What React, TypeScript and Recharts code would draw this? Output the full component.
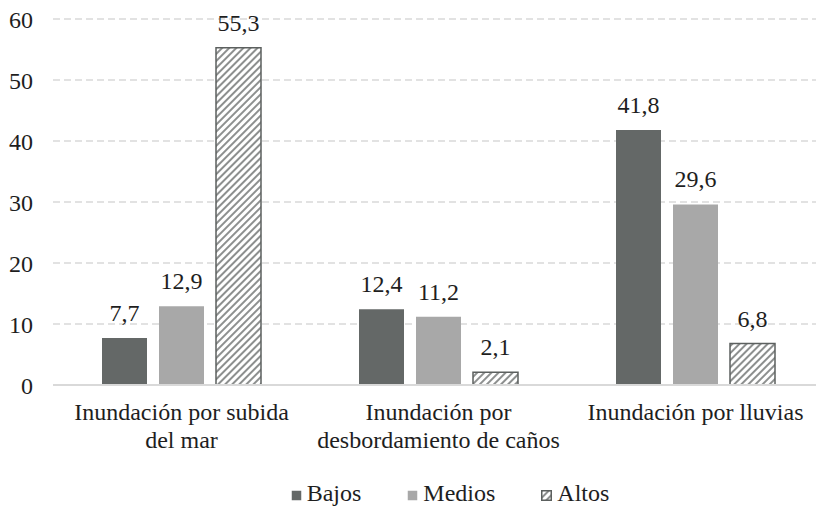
import React from 'react';
import { BarChart, Bar, XAxis, YAxis, CartesianGrid, Legend, LabelList } from 'recharts';

// categories use \n where the original label wraps
const categories = [
  'Inundación por subida\ndel mar',
  'Inundación por\ndesbordamiento de caños',
  'Inundación por lluvias',
];
const bajos = [7.7, 12.4, 41.8];
const medios = [12.9, 11.2, 29.6];
const altos = [55.3, 2.1, 6.8];
const yTicks = [0, 10, 20, 30, 40, 50, 60];

const data = categories.map((name, i) => ({
  name,
  bajos: bajos[i],
  medios: medios[i],
  altos: altos[i],
}));

const FONT = "'Liberation Serif', 'DejaVu Serif', serif";
const TEXT = '#1e1e1e';
const DARK = '#646867';
const LIGHT = '#a8a8a8';
const HATCH = '#5c605f';
const GRID = '#d9d9d9';

const fmt = (v: any) => Number(v).toFixed(1).replace('.', ',');

const CategoryTick = (props: any) => {
  const { x, y, payload } = props;
  const lines = String(payload.value).split('\n');
  return (
    <text x={x} y={y} textAnchor="middle" style={{ fill: TEXT, fontFamily: FONT, fontSize: 24 }}>
      {lines.map((line, i) => (
        <tspan key={i} x={x} dy={i === 0 ? 27 : 28}>
          {line}
        </tspan>
      ))}
    </text>
  );
};

const legendItems = [
  { label: 'Bajos', fill: DARK, stroke: 'none' },
  { label: 'Medios', fill: LIGHT, stroke: 'none' },
  { label: 'Altos', fill: 'url(#hatch)', stroke: HATCH },
];

const LegendContent = () => (
  <div
    style={{
      display: 'flex',
      justifyContent: 'center',
      alignItems: 'center',
      height: 26,
      paddingLeft: 76,
      fontFamily: FONT,
      fontSize: 24,
      color: TEXT,
      lineHeight: '26px',
    }}
  >
    {legendItems.map((it, i) => (
      <div key={it.label} style={{ display: 'flex', alignItems: 'center', marginLeft: i === 0 ? 0 : 46 }}>
        <svg width={11} height={11} style={{ marginRight: 5, marginTop: 4 }}>
          <rect x={0.75} y={0.75} width={9.5} height={9.5} fill={it.fill} stroke={it.stroke} strokeWidth={1.5} />
        </svg>
        <span>{it.label}</span>
      </div>
    ))}
  </div>
);

const labelStyle = { fill: TEXT, fontFamily: FONT, fontSize: 24 };

export default function App() {
  return (
    <div style={{ position: 'absolute', left: 0, top: 0, width: 816, height: 506, overflow: 'hidden', background: '#fff', fontFamily: FONT }}>
      <BarChart
        width={824}
        height={506}
        data={data}
        margin={{ top: 19, right: 0, left: 0, bottom: 0 }}
        barSize={45}
        barGap={12}
        style={{ fontFamily: FONT }}
      >
        <defs>
          <pattern id="hatch" patternUnits="userSpaceOnUse" width={5} height={5} patternTransform="rotate(45)">
            <rect x={0} y={0} width={5} height={5} fill="#fff" />
            <line x1={1} y1={0} x2={1} y2={5} stroke={HATCH} strokeWidth={1.4} />
          </pattern>
        </defs>
        <CartesianGrid vertical={false} stroke={GRID} strokeWidth={1.5} strokeDasharray="7 4" />
        <XAxis
          dataKey="name"
          tick={<CategoryTick />}
          tickLine={false}
          axisLine={{ stroke: GRID, strokeWidth: 2 }}
          height={95}
          interval={0}
        />
        <YAxis
          domain={[0, 60]}
          ticks={yTicks}
          width={53}
          axisLine={false}
          tickLine={false}
          tickMargin={14}
          tick={{ style: labelStyle }}
        />
        <Legend verticalAlign="bottom" content={<LegendContent />} wrapperStyle={{ height: 26 }} />
        <Bar dataKey="bajos" name="Bajos" fill={DARK} isAnimationActive={false}>
          <LabelList dataKey="bajos" position="top" offset={17} formatter={fmt} style={labelStyle} />
        </Bar>
        <Bar dataKey="medios" name="Medios" fill={LIGHT} isAnimationActive={false}>
          <LabelList dataKey="medios" position="top" offset={17} formatter={fmt} style={labelStyle} />
        </Bar>
        <Bar dataKey="altos" name="Altos" fill="url(#hatch)" stroke={HATCH} strokeWidth={1.5} isAnimationActive={false}>
          <LabelList dataKey="altos" position="top" offset={17} formatter={fmt} style={{ ...labelStyle, stroke: 'none' }} />
        </Bar>
      </BarChart>
    </div>
  );
}
